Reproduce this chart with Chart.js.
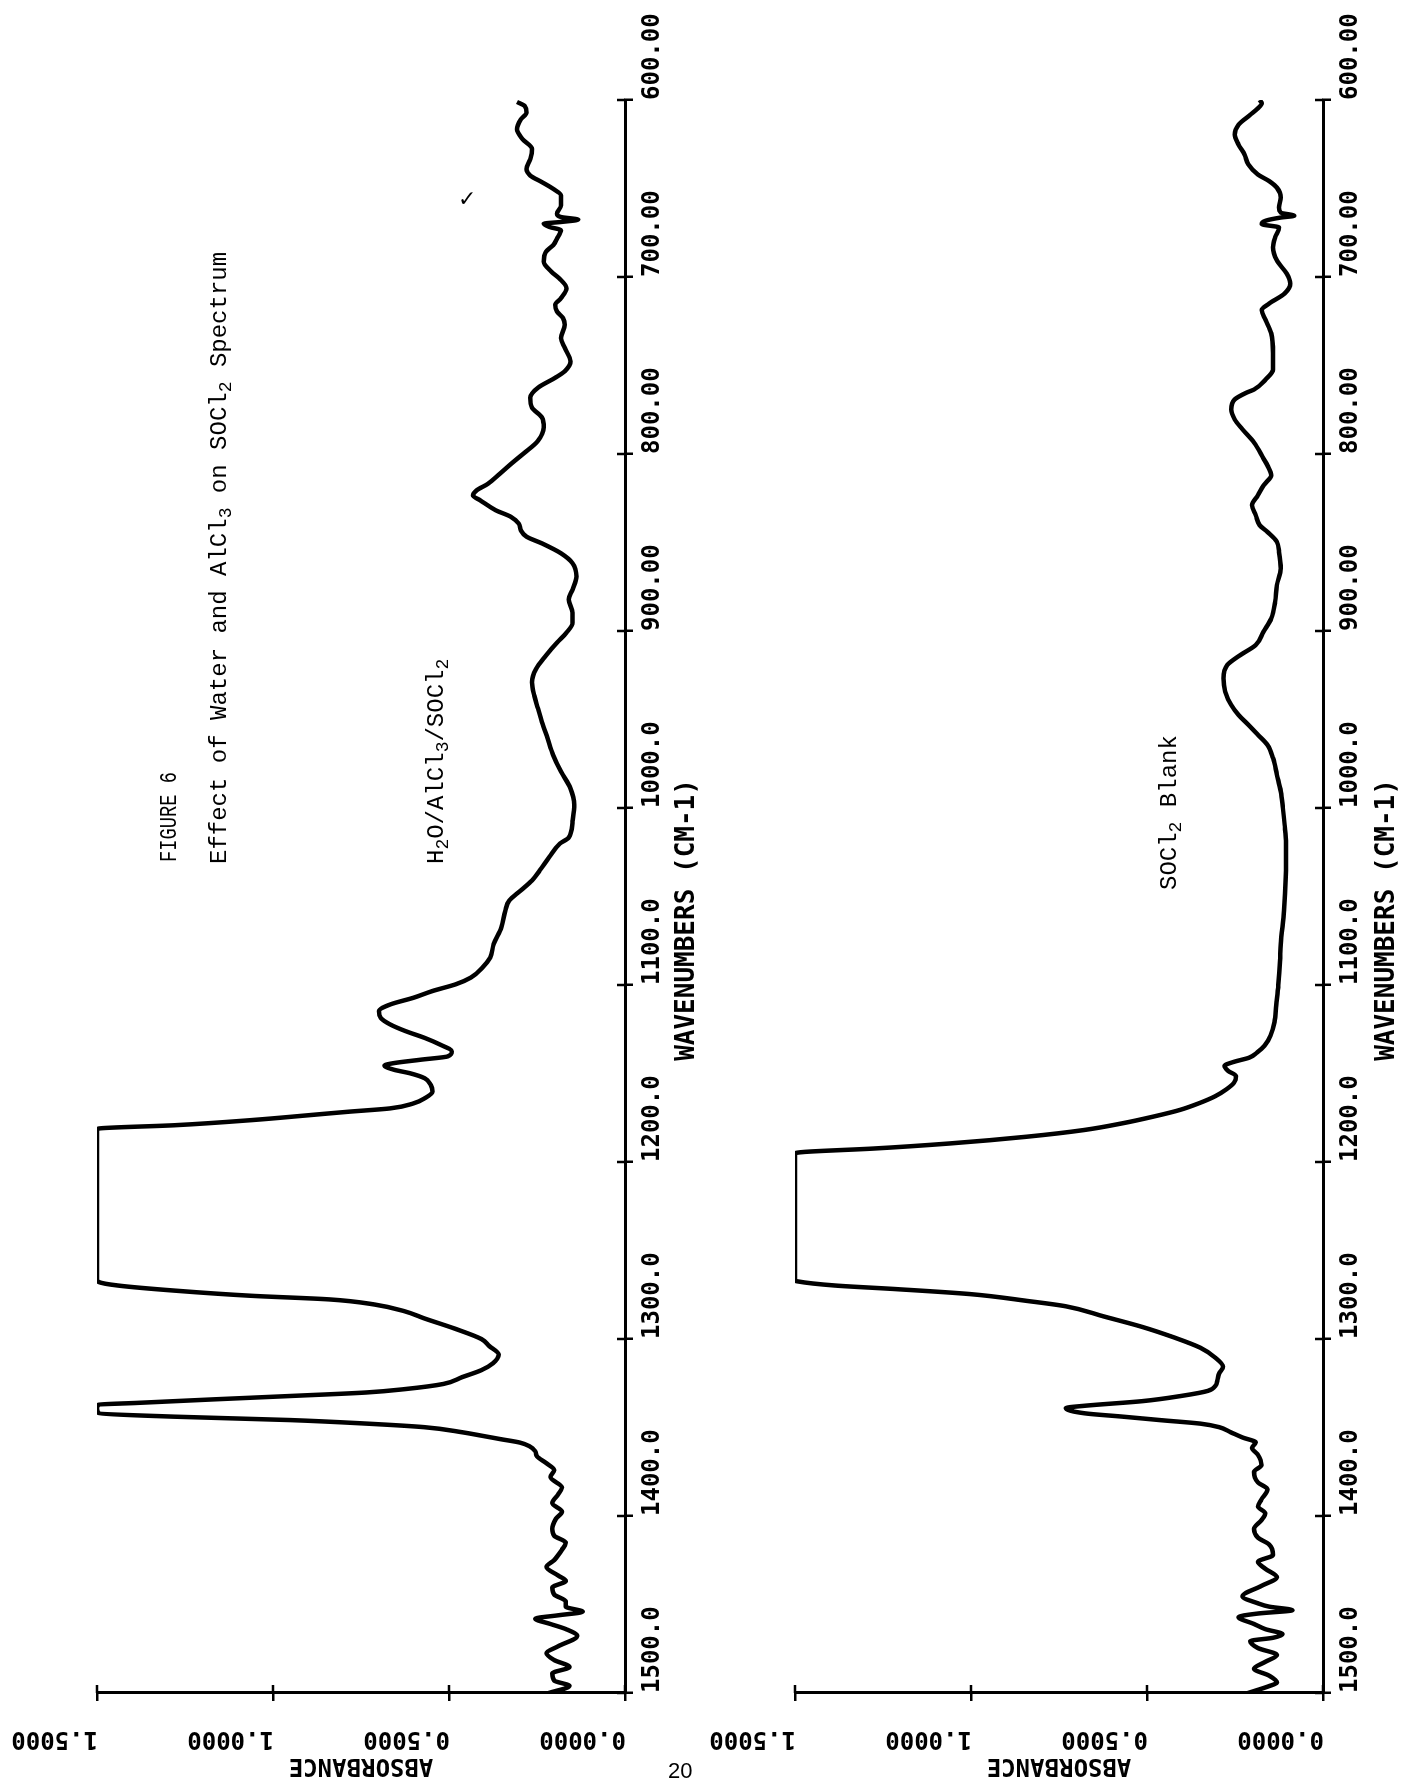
<!DOCTYPE html>
<html>
<head>
<meta charset="utf-8">
<title>FIGURE 6 - Effect of Water and AlCl3 on SOCl2 Spectrum</title>
<script src="https://cdn.jsdelivr.net/npm/chart.js@4.4.1/dist/chart.umd.min.js"></script>
<style>
  html, body { margin: 0; padding: 0; background: #fff; }
  body { width: 1410px; height: 1781px; position: relative; overflow: hidden; }
  /* each spectrum is plotted upright, then the panel is turned a quarter turn */
  .panel { position: absolute; left: 0; top: 0; width: 1820px; height: 710px; transform-origin: 0 0; }
  #p1 { transform: translate(0px, 1820px) rotate(-90deg); }
  #p2 { transform: translate(700px, 1820px) rotate(-90deg); }
  .vtext {
    position: absolute; transform-origin: 0 0; transform: rotate(-90deg);
    white-space: nowrap; font-family: "Liberation Mono", monospace;
    font-size: 24px; line-height: 30px; color: #000;
  }
  .vtext sub { font-size: 0.75em; vertical-align: -0.3em; line-height: 0; }
  .vtext.fig { transform: rotate(-90deg) scaleX(0.78); }
  .page-no { position: absolute; left: 668px; top: 1758px; font-family: "Liberation Sans", sans-serif; font-size: 22px; color: #000; }
  .check { position: absolute; left: 458px; top: 186px; font-family: "DejaVu Sans", sans-serif; font-size: 22px; color: #000; }
</style>
</head>
<body>
<div class="panel" id="p1"><canvas id="c1" width="1820" height="710"></canvas></div>
<div class="panel" id="p2"><canvas id="c2" width="1820" height="710"></canvas></div>

<div class="vtext fig" style="left:155px; top:862px;">FIGURE 6</div>
<div class="vtext" style="left:205px; top:864px;">Effect of Water and AlCl<sub>3</sub> on SOCl<sub>2</sub> Spectrum</div>
<div class="vtext" style="left:422px; top:864px;">H<sub>2</sub>O/AlCl<sub>3</sub>/SOCl<sub>2</sub></div>
<div class="vtext" style="left:1155px; top:890px;">SOCl<sub>2</sub> Blank</div>
<div class="check">&#10003;</div>
<div class="page-no">20</div>

<script>
// Axis ticks and their printed labels
const WN_TICKS = [600, 700, 800, 900, 1000, 1100, 1200, 1300, 1400, 1500];
const WN_TICK_LABELS = ['600.00', '700.00', '800.00', '900.00', '1000.0', '1100.0', '1200.0', '1300.0', '1400.0', '1500.0'];
const ABS_TICKS = [0, 0.5, 1.0, 1.5];
const ABS_TICK_LABELS = ['0.0000', '0.5000', '1.0000', '1.5000'];

// H2O/AlCl3/SOCl2 spectrum: wavenumber (cm-1) and absorbance
const mixWavenumber = [
  1500, 1496, 1493, 1489, 1485.3, 1481.4, 1477.5, 1473.6, 1467.8, 1463.9,
  1461, 1458, 1456.1, 1454.1, 1451.2, 1448.3, 1444.4, 1440.5, 1436.6, 1433.6,
  1428.8, 1424.9, 1419, 1415.1, 1411.2, 1407.3, 1401.5, 1397.6, 1392.7, 1387.8,
  1383.9, 1378, 1374.1, 1370.2, 1366.3, 1363.4, 1360.5, 1358.5, 1356.6, 1354.6,
  1352.7, 1349.8, 1347.8, 1345.8, 1343.9, 1341.9, 1339, 1337.1, 1336.1, 1334.1,
  1332.2, 1330.2, 1328.3, 1325.4, 1321.5, 1317.6, 1313.7, 1308.8, 1303.9, 1300,
  1294.1, 1288.3, 1284.4, 1280.5, 1277.6, 1275.6, 1272.7, 1269.8, 1267.8, 1266.4,
  1182, 1181.1, 1179.2, 1176.3, 1173.5, 1171.6, 1169.7, 1166.9, 1164, 1160.2,
  1156.4, 1152.7, 1149.8, 1147.9, 1145.5, 1144.1, 1142.2, 1140.3, 1137.5, 1133.7,
  1129.9, 1126.1, 1122.3, 1118.6, 1114.8, 1111, 1107.2, 1103.4, 1099.6, 1095.8,
  1090.2, 1084.5, 1076.9, 1067.4, 1058, 1052.3, 1046.6, 1040.9, 1035.2, 1027.7,
  1020.1, 1016.8, 1007.5, 998.1, 988.8, 979.4, 970.1, 960.7, 951.4, 943.9,
  936.4, 929, 921.5, 914, 906.5, 900.9, 895.3, 889.7, 882.2, 876.6,
  869.2, 861.7, 856.1, 850.5, 846.7, 843, 839.3, 835.5, 831.8, 826.2,
  823.4, 820.6, 816.8, 811.2, 805.6, 800, 792.5, 785, 779.4, 773.8,
  768.2, 762.5, 756.9, 753.2, 747.6, 740.1, 734.5, 727, 723.2, 719.5,
  715.7, 712, 706.4, 700.7, 697, 691.4, 685.8, 682, 678.3, 673.6,
  671.7, 669.9, 668.9, 667.6, 666.1, 664.2, 659.6, 653.9, 650.2, 646.4,
  642.7, 639, 633.3, 627.7, 622.1, 616.5, 610.9, 607.1, 603.4, 601.1
];
const mixAbsorbance = [
  0.217, 0.158, 0.201, 0.207, 0.158, 0.201, 0.223, 0.190, 0.136, 0.168,
  0.212, 0.255, 0.190, 0.120, 0.168, 0.168, 0.201, 0.207, 0.168, 0.190,
  0.223, 0.201, 0.179, 0.168, 0.201, 0.207, 0.196, 0.179, 0.207, 0.190,
  0.179, 0.212, 0.201, 0.223, 0.250, 0.255, 0.272, 0.299, 0.353, 0.408,
  0.462, 0.571, 0.734, 0.951, 1.277, 1.495, 1.5, 1.495, 1.386, 1.168,
  0.951, 0.734, 0.625, 0.516, 0.462, 0.408, 0.375, 0.359, 0.386, 0.408,
  0.484, 0.571, 0.625, 0.712, 0.842, 1.060, 1.277, 1.440, 1.495, 1.5,
  1.5, 1.495, 1.277, 1.059, 0.895, 0.786, 0.667, 0.601, 0.569, 0.547,
  0.552, 0.569, 0.612, 0.656, 0.683, 0.656, 0.580, 0.503, 0.492, 0.525,
  0.569, 0.623, 0.667, 0.694, 0.699, 0.667, 0.601, 0.547, 0.481, 0.438,
  0.405, 0.383, 0.373, 0.351, 0.340, 0.329, 0.296, 0.264, 0.242, 0.215,
  0.185, 0.160, 0.149, 0.144, 0.155, 0.182, 0.204, 0.220, 0.236, 0.247,
  0.258, 0.264, 0.253, 0.225, 0.193, 0.166, 0.149, 0.149, 0.160, 0.149,
  0.138, 0.149, 0.182, 0.236, 0.280, 0.296, 0.302, 0.324, 0.367, 0.411,
  0.432, 0.422, 0.389, 0.356, 0.324, 0.290, 0.247, 0.231, 0.236, 0.264,
  0.269, 0.247, 0.198, 0.171, 0.155, 0.171, 0.182, 0.171, 0.176, 0.193,
  0.198, 0.182, 0.166, 0.187, 0.209, 0.231, 0.225, 0.204, 0.193, 0.182,
  0.215, 0.231, 0.182, 0.133, 0.182, 0.193, 0.182, 0.182, 0.204, 0.236,
  0.269, 0.280, 0.269, 0.264, 0.291, 0.307, 0.296, 0.280, 0.285, 0.307
];

// SOCl2 blank spectrum: wavenumber (cm-1) and absorbance
const blankWavenumber = [
  1500, 1496.1, 1494.1, 1490.2, 1486.3, 1482.4, 1478.5, 1474.6, 1470.7, 1468.8,
  1466.8, 1463.9, 1461, 1457.1, 1455.1, 1453.2, 1451.2, 1449.3, 1445.4, 1439.5,
  1434.6, 1429.8, 1425.9, 1422, 1416.1, 1412.2, 1407.3, 1402.4, 1398.5, 1394.6,
  1390.7, 1384.9, 1381, 1375.1, 1371.2, 1365.4, 1361.5, 1358.5, 1355.6, 1352.7,
  1349.8, 1347.8, 1345.9, 1343.9, 1342, 1339, 1337.7, 1335.1, 1332.2, 1329.3,
  1326.3, 1323.4, 1319.5, 1315.6, 1310.7, 1304.9, 1299, 1293.2, 1287.3, 1281.5,
  1278.5, 1274.6, 1271.7, 1269.8, 1267.4, 1266.8,
  1195.2, 1194.3, 1192.4, 1189.5, 1185.7, 1181.9, 1178.1, 1174.3, 1170.5, 1166.7,
  1162.9, 1159, 1155.2, 1151.4, 1148.6, 1145.7, 1143.4, 1141, 1138.1, 1134.3,
  1128.6, 1121, 1111.4, 1100, 1086.7, 1077.1, 1058.1, 1039, 1020,
  1009.4, 1000, 990.6, 981.2, 971.8, 964.3, 958.6, 953, 947.4, 941.7,
  934.2, 926.7, 919.2, 913.5, 907.9, 900.4, 892.9, 883.5, 874.1, 864.7,
  855.3, 849.6, 844, 840.2, 834.6, 828.9, 823.3, 817.7, 812, 806.4,
  802.6, 793.5, 786, 780.4, 774.8, 769.2, 765.4, 763.6, 757.9, 752.3,
  743, 731.8, 724.3, 718.7, 715, 709.3, 703.7, 698.1, 690.7, 683.2,
  677.6, 672, 670.1, 668.2, 666.4, 665.4, 663.6, 660.7, 655.1, 649.5,
  645.8, 642.1, 636.4, 630.8, 625.2, 619.6, 614, 608.4, 604.7, 601.9, 600
];
const blankAbsorbance = [
  0.213, 0.153, 0.131, 0.153, 0.196, 0.164, 0.131, 0.185, 0.207, 0.142,
  0.115, 0.164, 0.196, 0.240, 0.185, 0.087, 0.153, 0.185, 0.229, 0.175,
  0.131, 0.164, 0.185, 0.142, 0.153, 0.185, 0.196, 0.175, 0.164, 0.185,
  0.175, 0.158, 0.185, 0.196, 0.175, 0.185, 0.202, 0.191, 0.229, 0.262,
  0.295, 0.349, 0.458, 0.567, 0.676, 0.731, 0.676, 0.513, 0.404, 0.327,
  0.305, 0.300, 0.295, 0.284, 0.305, 0.349, 0.425, 0.513, 0.622, 0.731,
  0.840, 1.004, 1.222, 1.385, 1.494, 1.5,
  1.5, 1.473, 1.277, 1.059, 0.841, 0.678, 0.569, 0.481, 0.405, 0.351,
  0.307, 0.275, 0.253, 0.247, 0.269, 0.280, 0.253, 0.209, 0.187, 0.166,
  0.149, 0.138, 0.133, 0.127, 0.122, 0.120, 0.111, 0.106, 0.105,
  0.109, 0.114, 0.120, 0.131, 0.142, 0.158, 0.185, 0.212, 0.240, 0.261,
  0.278, 0.283, 0.272, 0.234, 0.191, 0.169, 0.147, 0.136, 0.131, 0.120,
  0.125, 0.131, 0.158, 0.180, 0.191, 0.202, 0.185, 0.169, 0.147, 0.158,
  0.169, 0.196, 0.229, 0.251, 0.261, 0.251, 0.218, 0.196, 0.163, 0.142,
  0.142, 0.147, 0.163, 0.174, 0.153, 0.109, 0.093, 0.103, 0.131, 0.142,
  0.136, 0.125, 0.174, 0.163, 0.120, 0.082, 0.120, 0.125, 0.120, 0.131,
  0.153, 0.185, 0.212, 0.223, 0.240, 0.251, 0.240, 0.207, 0.185, 0.174, 0.180
];

const CANVAS_W = 1820;
const CANVAS_H = 710;
const ABS_AXIS_W = 127;
const INK = '#000';
const PLOT_FONT = '"DejaVu Sans Mono", monospace';

// Inner halves of the tick marks, and the absorbance tick labels written along the axis
const axisMarks = {
  id: 'axisMarks',
  afterDraw(chart) {
    const { ctx, chartArea } = chart;
    const xs = chart.scales.x, ys = chart.scales.y;
    ctx.save();
    ctx.strokeStyle = INK;
    ctx.lineWidth = 2.5;
    ctx.beginPath();
    xs.ticks.forEach(t => {
      const px = xs.getPixelForValue(t.value);
      ctx.moveTo(px, chartArea.bottom);
      ctx.lineTo(px, chartArea.bottom - 8);
    });
    ys.ticks.forEach(t => {
      const py = ys.getPixelForValue(t.value);
      ctx.moveTo(chartArea.left, py);
      ctx.lineTo(chartArea.left + 8, py);
    });
    ctx.stroke();

    ctx.fillStyle = INK;
    ctx.font = 'bold 24px ' + PLOT_FONT;
    ctx.textAlign = 'left';
    ctx.textBaseline = 'middle';
    ys.ticks.forEach(t => {
      const i = ABS_TICKS.indexOf(t.value);
      if (i < 0) return;
      const py = ys.getPixelForValue(t.value);
      ctx.save();
      ctx.translate(chartArea.left - 45, py + 1);
      ctx.rotate(-Math.PI / 2);
      ctx.fillText(ABS_TICK_LABELS[i], 0, 0);
      ctx.restore();
    });
    ctx.restore();
  }
};

function buildSpectrum(canvasId, wavenumber, absorbance, areaTop, areaBottom) {
  const points = wavenumber.map((w, i) => ({ x: w, y: absorbance[i] }))
    .sort((a, b) => a.x - b.x);
  const axisGrid = { drawOnChartArea: false, drawTicks: true, tickLength: 8, color: INK, lineWidth: 2.5 };
  const axisBorder = { display: true, color: INK, width: 3 };
  return new Chart(document.getElementById(canvasId), {
    type: 'line',
    data: {
      datasets: [{
        data: points,
        borderColor: INK,
        borderWidth: 4.5,
        pointRadius: 0,
        fill: false,
        cubicInterpolationMode: 'monotone'
      }]
    },
    options: {
      responsive: false,
      animation: false,
      devicePixelRatio: 1,
      layout: { padding: { left: 0, right: 100, top: areaTop, bottom: 0 } },
      plugins: { legend: { display: false }, tooltip: { enabled: false } },
      scales: {
        x: {
          type: 'linear',
          reverse: true,
          min: 600,
          max: 1500,
          afterFit(s) { s.height = CANVAS_H - areaBottom; s.paddingLeft = 0; s.paddingRight = 0; },
          ticks: {
            stepSize: 100,
            autoSkip: false,
            minRotation: 0,
            maxRotation: 0,
            align: 'start',
            padding: 5,
            color: INK,
            font: { family: PLOT_FONT, weight: 'bold', size: 24 },
            callback: v => { const i = WN_TICKS.indexOf(v); return i < 0 ? '' : WN_TICK_LABELS[i]; }
          },
          grid: axisGrid,
          border: axisBorder,
          title: {
            display: true,
            // trailing spaces set the title a little toward the 1500 end
            text: 'WAVENUMBERS (CM-1)   ',
            color: INK,
            font: { family: PLOT_FONT, weight: 'bold', size: 26 },
            padding: { top: 0, bottom: 7 }
          }
        },
        y: {
          type: 'linear',
          min: 0,
          max: 1.5,
          afterFit(s) { s.width = ABS_AXIS_W; s.paddingTop = 0; s.paddingBottom = 0; },
          ticks: { stepSize: 0.5, display: false },
          grid: axisGrid,
          border: axisBorder,
          title: {
            display: true,
            text: 'ABSORBANCE',
            color: INK,
            font: { family: PLOT_FONT, weight: 'bold', size: 24 },
            padding: { top: 40, bottom: 0 }
          }
        }
      }
    },
    plugins: [axisMarks]
  });
}

buildSpectrum('c1', mixWavenumber, mixAbsorbance, 97, 625);
buildSpectrum('c2', blankWavenumber, blankAbsorbance, 95, 623);
</script>
</body>
</html>
